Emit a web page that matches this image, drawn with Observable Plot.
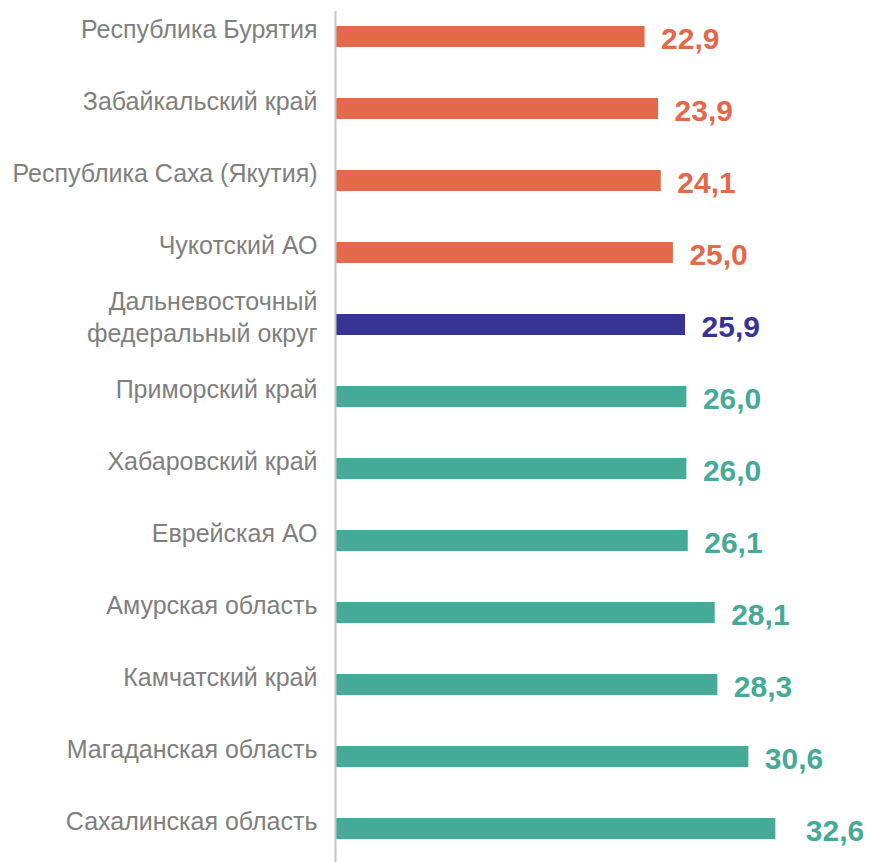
<!DOCTYPE html>
<html>
<head>
<meta charset="utf-8">
<script src="https://cdn.jsdelivr.net/npm/d3@7"></script>
<script src="https://cdn.jsdelivr.net/npm/@observablehq/plot@0.6"></script>
<style>
  html, body { margin: 0; padding: 0; background: #ffffff; }
</style>
</head>
<body>
<div id="chart"></div>
<script>
const regions = [
  "Республика Бурятия",
  "Забайкальский край",
  "Республика Саха (Якутия)",
  "Чукотский АО",
  "Дальневосточный\nфедеральный округ",
  "Приморский край",
  "Хабаровский край",
  "Еврейская АО",
  "Амурская область",
  "Камчатский край",
  "Магаданская область",
  "Сахалинская область"
];
const values = [22.9, 23.9, 24.1, 25.0, 25.9, 26.0, 26.0, 26.1, 28.1, 28.3, 30.6, 32.6];
const groups = ["below", "below", "below", "below", "district", "above", "above", "above", "above", "above", "above", "above"];

const groupDomain = ["below", "district", "above"];
const groupColors = ["#E3694A", "#373496", "#46AA98"];

const data = regions.map((name, i) => ({ name, value: values[i], group: groups[i] }));
const fmt = v => d3.format(".1f")(v).replace(".", ",");
const maxValue = d3.max(values);

const chart = Plot.plot({
  width: 871,
  height: 862,
  marginLeft: 336,
  marginRight: 0,
  marginTop: 0,
  marginBottom: -3,
  style: { fontFamily: "'Liberation Sans', Arial, sans-serif", background: "#ffffff" },
  x: { domain: [0, 39.7], axis: null },
  y: { domain: regions, paddingInner: 0.709, paddingOuter: 0.354, label: null },
  color: { domain: groupDomain, range: groupColors },
  marks: [
    Plot.barX(data, { x: "value", y: "name", fill: "group" }),
    Plot.ruleX([0], { stroke: "#c6c6c6", strokeWidth: 2, dx: -1, insetTop: 11 }),
    Plot.axisY({ tickSize: 0, tickPadding: 19, dy: -9, fontSize: 25, fill: "#7f7f7f", lineHeight: 1.25 }),
    Plot.text(data.filter(d => d.value !== maxValue), {
      x: "value", y: "name", text: d => fmt(d.value), fill: "group",
      textAnchor: "start", dx: 16, dy: 2, fontSize: 30, fontWeight: "bold"
    }),
    Plot.text(data.filter(d => d.value === maxValue), {
      x: "value", y: "name", text: d => fmt(d.value), fill: "group",
      textAnchor: "start", dx: 30, dy: 2, fontSize: 30, fontWeight: "bold"
    })
  ]
});
document.getElementById("chart").appendChild(chart);
</script>
</body>
</html>
